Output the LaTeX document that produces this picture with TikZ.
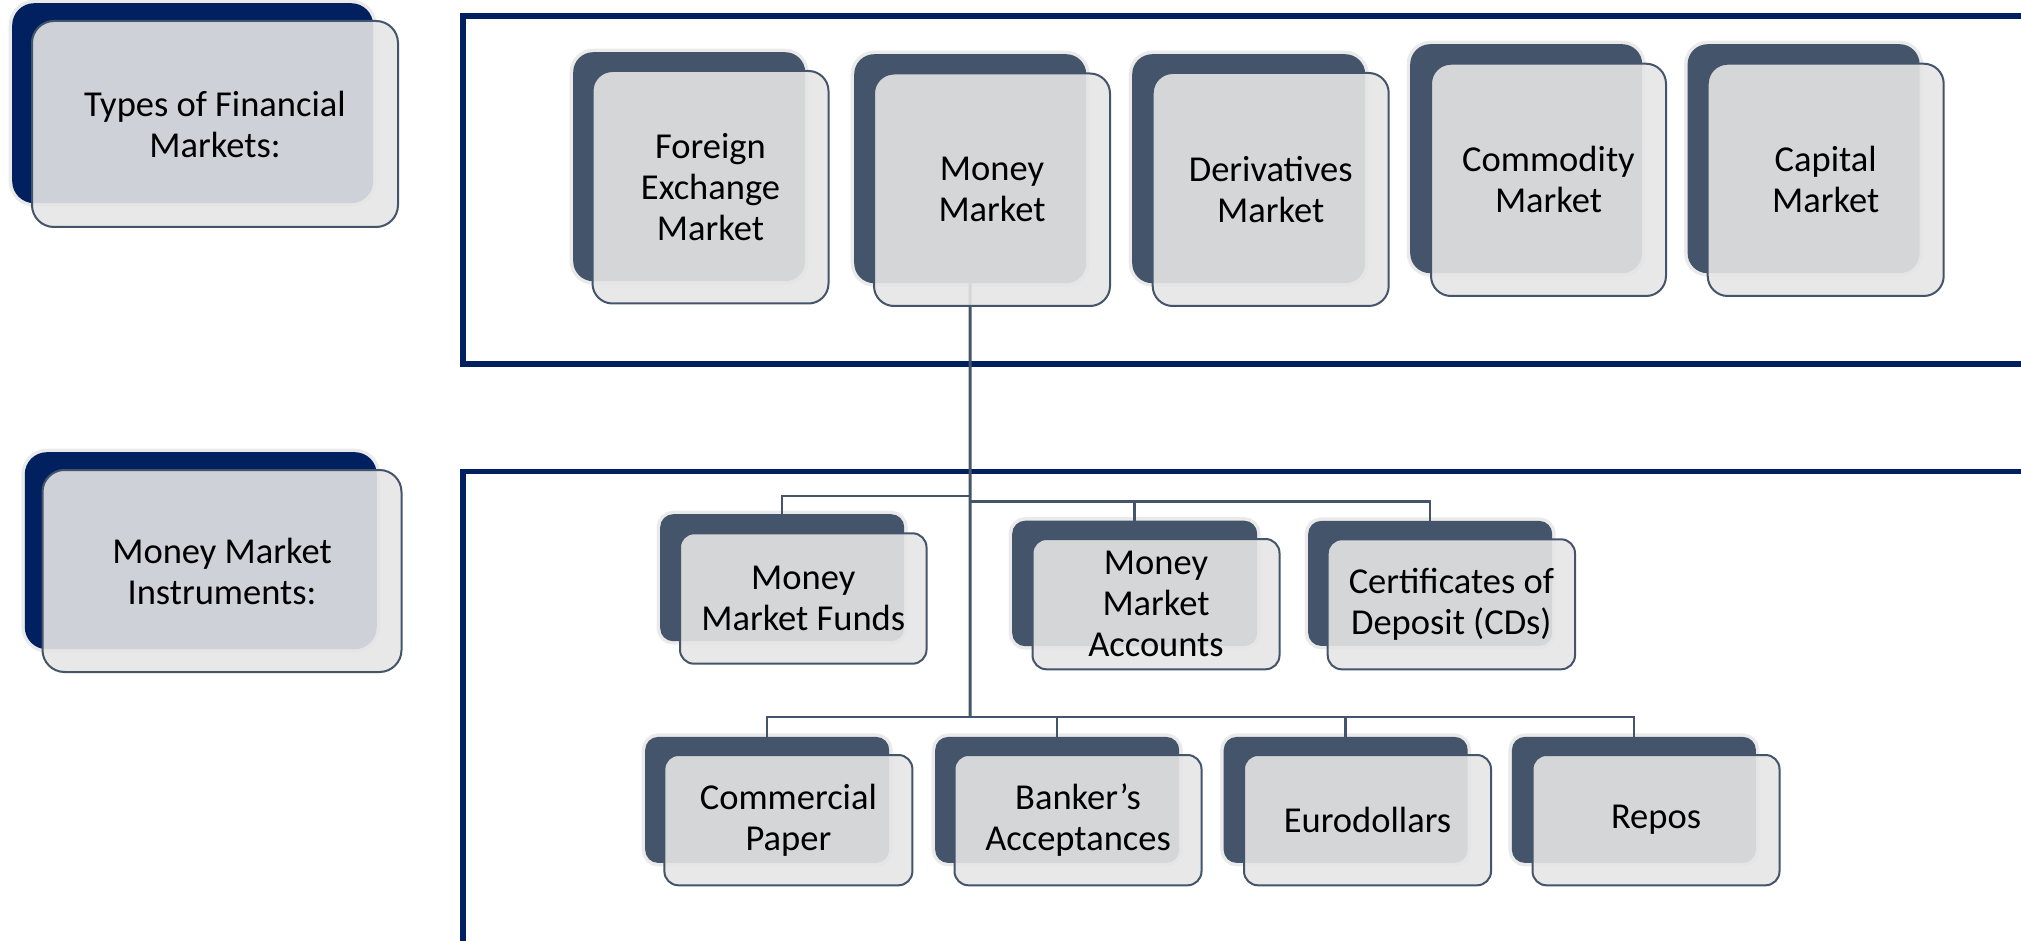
\documentclass[tikz,border=0pt]{standalone}
\usepackage{fontspec}
\setmainfont{Carlito}
\definecolor{navy}{HTML}{002060}
\definecolor{slate}{HTML}{44546A}
\definecolor{halo}{HTML}{EAEAEA}
\definecolor{frontfill}{HTML}{E5E5E5}
\tikzset{
  bbox/.style={rectangle, inner sep=0pt, anchor=north west,
    preaction={draw=halo, line width=7pt}},
  fbox/.style={rectangle, inner sep=0pt, anchor=north west, draw=slate,
    line width=2pt, fill=frontfill, fill opacity=0.9, text opacity=1,
    align=center, text=black, font=\fontsize{36.5}{41}\selectfont},
  frame/.style={draw=navy, line width=5.5pt},
  trunk/.style={draw=slate, line width=3pt},
  branch/.style={draw=slate, line width=2.5pt},
}
% name, x, y, w, h, colour   (back plate)
\newcommand\mkback[7][20pt]{%
  \node[bbox, rounded corners=#1, fill=#7, minimum width=#5, minimum height=#6] (#2) at (#3,#4) {};}
% name, x, y, w, h, text   (front plate)
\newcommand\mkfront[7][20pt]{%
  \node[fbox, rounded corners=#1, minimum width=#5, minimum height=#6] (#2) at (#3,#4) {#7};}
\begin{document}
\begin{tikzpicture}[x=1pt,y=-1pt]
\useasboundingbox (0,0) rectangle (2021,941);
\clip (0,0) rectangle (2021,941);
% frames
\draw[frame] (463,16) rectangle (2040,364);
\draw[frame] (463,471.5) rectangle (2040,946);
% back plates
\mkback[22pt]{lab1b}{12}{3}{361}{200}{navy}
\mkback[22pt]{lab2b}{24.6}{452}{352}{197}{navy}
\mkback{fxb}{573}{52}{232}{229}{slate}
\mkback{mmb}{854}{54}{232}{229}{slate}
\mkback{dvb}{1132}{54}{233}{229}{slate}
\mkback{cmb}{1410}{44}{232}{229}{slate}
\mkback{cpb}{1687.4}{44}{232}{229}{slate}
\mkback[13pt]{mmfb}{660}{514}{244}{127}{slate}
\mkback[13pt]{mmab}{1012}{520.5}{245}{125.5}{slate}
\mkback[13pt]{cdb}{1308}{520.7}{244}{125}{slate}
\mkback[13pt]{cppb}{645}{736.7}{244}{126}{slate}
\mkback[13pt]{bab}{935}{736.7}{244}{126}{slate}
\mkback[13pt]{eub}{1223.5}{736.7}{244}{126}{slate}
\mkback[13pt]{reb}{1511.7}{736.7}{244}{126}{slate}
% connectors
\coordinate (jL) at (970,496);
\coordinate (jR) at (970,501.5);
\coordinate (jB) at (970,717);
\draw[trunk] (mmb.south) -- (jB);
\draw[branch] (jL) -| (mmfb.north);
\draw[branch] (jR) -| (mmab.north);
\draw[branch] (jR) -| (cdb.north);
\draw[branch] (jB) -| (cppb.north);
\draw[branch] (jB) -| (bab.north);
\draw[branch] (jB) -| (eub.north);
\draw[branch] (jB) -| (reb.north);
% front plates
\mkfront[22pt]{lab1}{31}{20}{366}{206}{Types of Financial\\Markets:}
\mkfront[22pt]{lab2}{41.5}{469}{359}{202}{Money Market\\Instruments:}
\mkfront{fx}{591.5}{70}{236}{232.5}{Foreign\\Exchange\\Market}
\mkfront{mm}{873}{72.5}{236}{232.5}{Money\\Market}
\mkfront{dv}{1151.7}{72}{236}{233}{Derivatives\\Market}
\mkfront{cm}{1430}{62.7}{235}{232.3}{Commodity\\Market}
\mkfront{cp}{1706.7}{62.7}{236}{232.3}{Capital\\Market}
\mkfront[14pt]{mmf}{679}{532.3}{246.5}{130.4}{Money\\Market Funds}
\mkfront[14pt]{mma}{1031.5}{538}{247}{130.3}{Money\\Market\\Accounts}
\mkfront[14pt]{cd}{1326.7}{538.3}{247.3}{130}{Certificates of\\Deposit (CDs)}
\mkfront[14pt]{cpp}{663.4}{754}{248}{130.3}{Commercial\\Paper}
\mkfront[14pt]{ba}{953.5}{754}{247}{130.3}{Banker’s\\Acceptances}
\mkfront[14pt]{eu}{1243}{754}{247}{130.3}{Eurodollars}
\mkfront[14pt]{re}{1531.5}{754}{247}{130.3}{Repos}
\end{tikzpicture}
\end{document}
